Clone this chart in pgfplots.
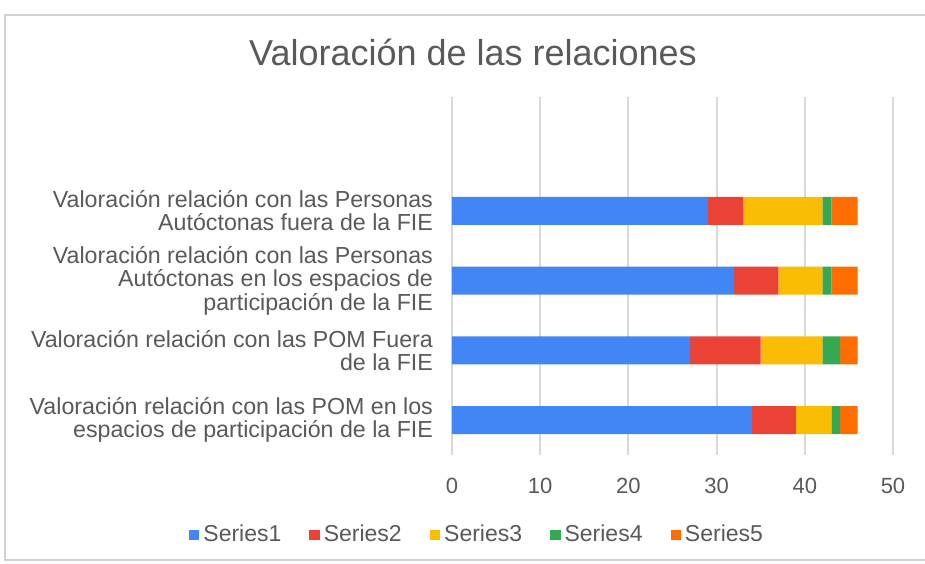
\documentclass[border=0pt]{standalone}
\usepackage{fontspec}
\setmainfont{Liberation Sans}
\usepackage{pgfplots}
\pgfplotsset{compat=1.18}

\definecolor{s1}{HTML}{4285F4}
\definecolor{s2}{HTML}{EA4335}
\definecolor{s3}{HTML}{FBBC04}
\definecolor{s4}{HTML}{34A853}
\definecolor{s5}{HTML}{FF6D01}
\definecolor{txt}{HTML}{595959}

\begin{document}
\begin{tikzpicture}
% page frame (1px = 0.5pt, axis corner at px 452,455)
\useasboundingbox (-226pt,-54pt) rectangle (236.5pt,227.5pt);
\draw[black!18, line width=1pt] (-223.5pt,-52.5pt) rectangle (240pt,220pt);

\pgfplotsset{leg/.style={legend image code/.code={\fill[##1] (0pt,-2.6pt) rectangle (5.2pt,2.6pt);}}}

\begin{axis}[
    at={(0,0)}, anchor=south west,
    scale only axis,
    width=220.5pt, height=179pt,
    xbar stacked,
    bar width=14pt,
    xmin=0, xmax=50,
    ymin=-0.5, ymax=4.63,
    xtick={0,10,20,30,40,50},
    ytick={0,1,2,3},
    yticklabels={
        {Valoración relación con las POM en los\\espacios de participación de la FIE},
        {Valoración relación con las POM Fuera\\de la FIE},
        {Valoración relación con las Personas\\Autóctonas en los espacios de\\participación de la FIE},
        {Valoración relación con las Personas\\Autóctonas fuera de la FIE}},
    yticklabel style={align=right, font=\fontsize{11.6}{11.75}\selectfont, text=txt},
    xticklabel style={font=\fontsize{11}{12}\selectfont, text=txt},
    /pgf/number format/assume math mode=true,
    major tick length=0pt,
    xticklabel shift=8pt,
    yticklabel shift=6pt,
    axis line style={draw=none},
    xmajorgrids,
    grid style={black!15, line width=1pt},
    legend columns=5,
    legend style={at={(0,0)}, anchor=center, xshift=13pt, yshift=-40pt, draw=none,
        font=\fontsize{11.5}{12}\selectfont, text=txt,
        /tikz/every even column/.append style={column sep=12pt}},
]
\addplot[fill=s1, draw=none, leg] coordinates {(34,0) (27,1) (32,2) (29,3)};
\addlegendentry{Series1}
\addplot[fill=s2, draw=none, leg] coordinates {(5,0) (8,1) (5,2) (4,3)};
\addlegendentry{Series2}
\addplot[fill=s3, draw=none, leg] coordinates {(4,0) (7,1) (5,2) (9,3)};
\addlegendentry{Series3}
\addplot[fill=s4, draw=none, leg] coordinates {(1,0) (2,1) (1,2) (1,3)};
\addlegendentry{Series4}
\addplot[fill=s5, draw=none, leg] coordinates {(2,0) (2,1) (3,2) (3,3)};
\addlegendentry{Series5}
\end{axis}

\node[text=txt, font=\fontsize{18}{20}\selectfont] at (10.5pt,201.5pt) {Valoración de las relaciones};
\end{tikzpicture}
\end{document}
